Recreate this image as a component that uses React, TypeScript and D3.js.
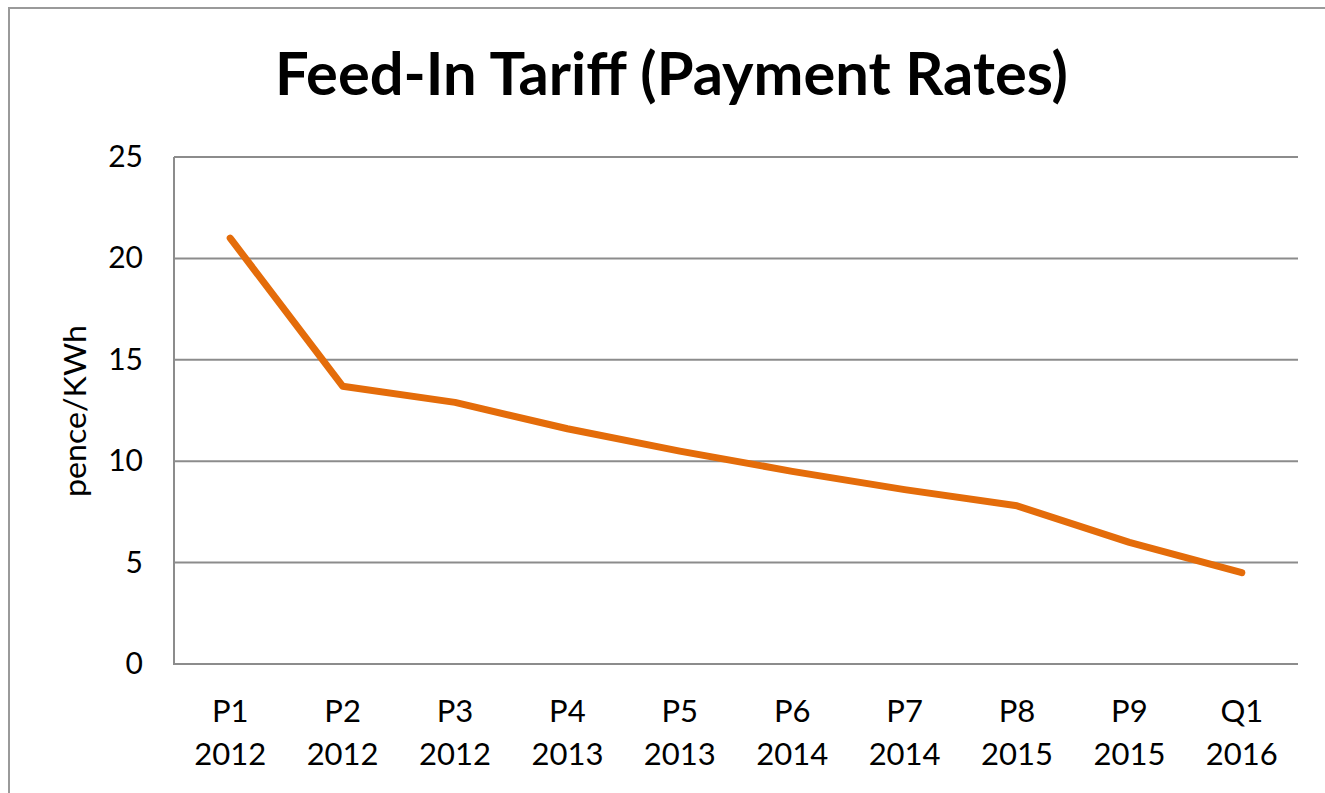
import React from "react";
import * as d3 from "d3";

const periods = ["P1", "P2", "P3", "P4", "P5", "P6", "P7", "P8", "P9", "Q1"];
const years = ["2012", "2012", "2012", "2013", "2013", "2014", "2014", "2015", "2015", "2016"];
const rates = [21.0, 13.7, 12.9, 11.6, 10.5, 9.5, 8.6, 7.8, 6.0, 4.5];
const yTicks = [0, 5, 10, 15, 20, 25];

const W = 1325;
const H = 793;
const plot = { left: 174, right: 1298, top: 157, bottom: 664 };
const FONT = "Lato, 'Open Sans', 'DejaVu Sans', sans-serif";

export default function App() {
  const keys = periods.map((p, i) => p + "|" + i);
  const x = d3.scaleBand<string>().domain(keys).range([plot.left, plot.right]);
  const y = d3.scaleLinear().domain([0, 25]).range([plot.bottom, plot.top]);
  const cx = (i: number) => (x(keys[i]) as number) + x.bandwidth() / 2;

  const line = d3
    .line<number>()
    .x((_, i) => cx(i))
    .y((d) => y(d));

  return (
    <svg
      width={W}
      height={H}
      style={{ position: "absolute", left: 0, top: 0, display: "block", background: "#fff" }}
    >
      <rect x={9} y={8} width={1400} height={900} fill="#fff" stroke="#9a9a9a" strokeWidth={2} />
      <text
        x={671.5}
        y={95}
        textAnchor="middle"
        fontFamily={FONT}
        fontWeight={700}
        fontSize={59}
        textLength={793}
        lengthAdjust="spacingAndGlyphs"
        fill="#000"
      >
        Feed-In Tariff (Payment Rates)
      </text>

      {yTicks.map((t) => (
        <g key={t}>
          {t > 0 && (
            <line x1={plot.left} x2={plot.right} y1={y(t)} y2={y(t)} stroke="#8c8c8c" strokeWidth={2} />
          )}
          <text
            x={143}
            y={y(t) + 10}
            textAnchor="end"
            fontFamily={FONT}
            fontSize={30}
            fill="#000"
          >
            {t}
          </text>
        </g>
      ))}
      <line x1={plot.left} x2={plot.left} y1={plot.top} y2={plot.bottom} stroke="#8c8c8c" strokeWidth={2} />
      <line x1={plot.left - 1} x2={plot.right} y1={plot.bottom} y2={plot.bottom} stroke="#8c8c8c" strokeWidth={2} />

      {periods.map((p, i) => (
        <g key={i}>
          <text x={cx(i)} y={722} textAnchor="middle" fontFamily={FONT} fontSize={31} fill="#000">
            {p}
          </text>
          <text x={cx(i)} y={765} textAnchor="middle" fontFamily={FONT} fontSize={31} fill="#000">
            {years[i]}
          </text>
        </g>
      ))}

      <text
        transform={`translate(86,411) rotate(-90)`}
        textAnchor="middle"
        fontFamily={FONT}
        fontSize={30}
        textLength={172}
        lengthAdjust="spacingAndGlyphs"
        fill="#000"
      >
        pence/KWh
      </text>

      <path
        d={line(rates) || ""}
        fill="none"
        stroke="#E46C0A"
        strokeWidth={7}
        strokeLinejoin="round"
        strokeLinecap="round"
      />
    </svg>
  );
}
